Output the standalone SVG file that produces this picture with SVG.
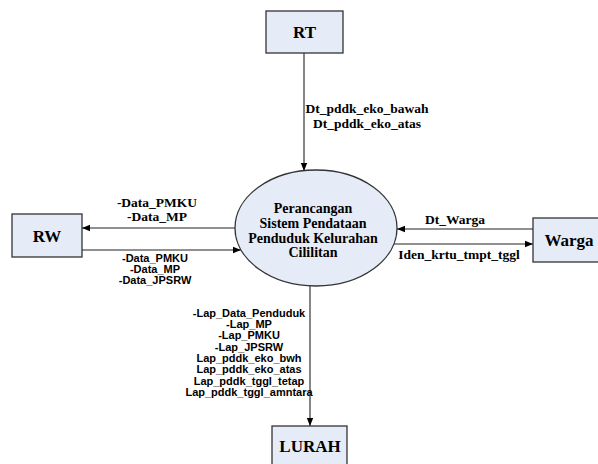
<svg xmlns="http://www.w3.org/2000/svg" width="598" height="464" viewBox="0 0 598 464">
<style>
.box{fill:#e6ecf7;stroke:#333;stroke-width:1.3}
.nt{font-family:"Liberation Serif",serif;font-weight:bold;font-size:17px;text-anchor:middle;fill:#000}
.ct{font-family:"Liberation Serif",serif;font-weight:bold;font-size:14px;text-anchor:middle;fill:#000}
.lt{font-family:"Liberation Serif",serif;font-weight:bold;font-size:13.5px;text-anchor:middle;fill:#000}
.st{font-family:"Liberation Sans",sans-serif;font-weight:bold;font-size:11px;text-anchor:middle;fill:#000}
.ln{stroke:#222;stroke-width:1.1;fill:none;marker-end:url(#ah)}
</style>
<defs>
<marker id="ah" viewBox="0 0 10 10" refX="10" refY="5" markerWidth="8" markerHeight="8" markerUnits="userSpaceOnUse" orient="auto">
<path d="M0,1 L10,5 L0,9 z" fill="#000"/>
</marker>
</defs>
<rect width="598" height="464" fill="#fff"/>
<g id="connectors">
<line class="ln" x1="304" y1="53" x2="304" y2="171"/>
<line class="ln" x1="235" y1="228" x2="82" y2="228"/>
<line class="ln" x1="82" y1="250" x2="241" y2="250"/>
<line class="ln" x1="533" y1="229" x2="397" y2="229"/>
<line class="ln" x1="394" y1="244" x2="533" y2="244"/>
<line class="ln" x1="310" y1="286" x2="310" y2="426"/>
<text class="lt" x="367" y="113">Dt_pddk_eko_bawah</text>
<text class="lt" x="367" y="128">Dt_pddk_eko_atas</text>
<text class="lt" x="157" y="207">-Data_PMKU</text>
<text class="lt" x="157" y="221">-Data_MP</text>
<text class="st" x="155" y="262">-Data_PMKU</text>
<text class="st" x="155" y="273">-Data_MP</text>
<text class="st" x="155" y="284">-Data_JPSRW</text>
<text class="lt" x="455" y="224">Dt_Warga</text>
<text class="lt" x="459" y="259">Iden_krtu_tmpt_tggl</text>
<text class="st" x="249" y="317">-Lap_Data_Penduduk</text>
<text class="st" x="249" y="328">-Lap_MP</text>
<text class="st" x="249" y="339">-Lap_PMKU</text>
<text class="st" x="249" y="351">-Lap_JPSRW</text>
<text class="st" x="249" y="362">Lap_pddk_eko_bwh</text>
<text class="st" x="249" y="373">Lap_pddk_eko_atas</text>
<text class="st" x="249" y="385">Lap_pddk_tggl_tetap</text>
<text class="st" x="249" y="396">Lap_pddk_tggl_amntara</text>
</g>
<g id="RT">
<rect class="box" x="266" y="11" width="77" height="42"/>
<text class="nt" x="304.5" y="38">RT</text>
</g>
<g id="proses">
<ellipse cx="316" cy="228" rx="81" ry="58" fill="#e6ecf7" stroke="#333" stroke-width="1.3"/>
<text class="ct" x="313" y="213">Perancangan</text>
<text class="ct" x="313" y="228">Sistem Pendataan</text>
<text class="ct" x="313" y="243">Penduduk Kelurahan</text>
<text class="ct" x="313" y="257">Cililitan</text>
</g>
<g id="RW">
<rect class="box" x="12" y="214" width="70" height="43"/>
<text class="nt" x="47" y="242">RW</text>
</g>
<g id="Warga">
<rect class="box" x="533" y="218" width="66" height="44"/>
<text class="nt" x="569" y="246">Warga</text>
</g>
<g id="LURAH">
<rect class="box" x="272" y="426" width="75" height="44"/>
<text class="nt" x="310" y="452">LURAH</text>
</g>
</svg>
